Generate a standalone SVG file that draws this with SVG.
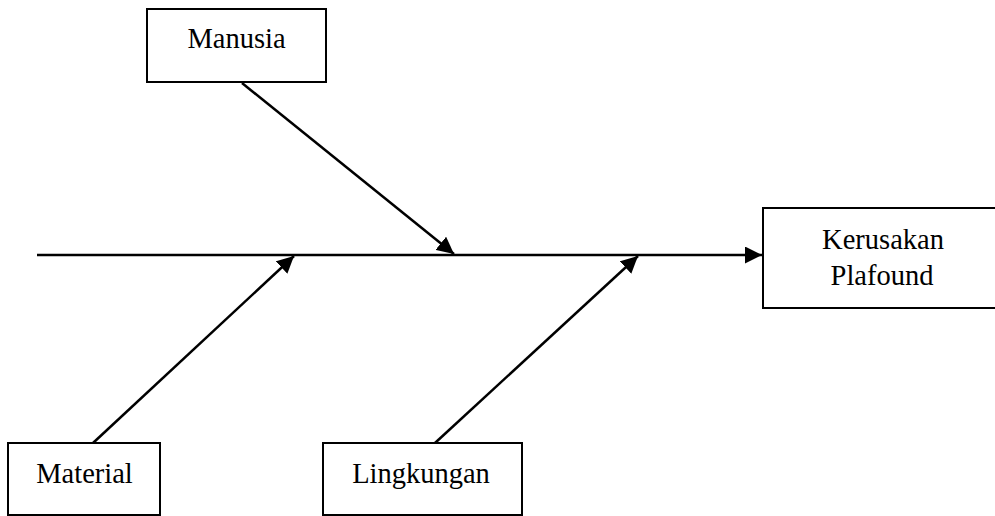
<svg xmlns="http://www.w3.org/2000/svg" width="995" height="516" viewBox="0 0 995 516">
  <style>
    .box { fill: #ffffff; stroke: #000000; stroke-width: 2; }
    .lbl { font-family: "Liberation Serif", "Times New Roman", serif; font-size: 28.5px; fill: #000000; text-anchor: middle; }
    .conn { stroke: #000000; stroke-width: 2.5; fill: none; marker-end: url(#arr); }
  </style>
  <defs>
    <marker id="arr" markerUnits="userSpaceOnUse" markerWidth="18" markerHeight="17" refX="17" refY="8.5" orient="auto">
      <path d="M0,0 L17,8.5 L0,17 Z" fill="#000000"/>
    </marker>
  </defs>
  <rect width="995" height="516" fill="#ffffff"/>
  <g id="connectors">
    <line class="conn" x1="37" y1="255" x2="762" y2="255"/>
    <line class="conn" x1="242" y1="83" x2="454" y2="254"/>
    <line class="conn" x1="93" y1="443" x2="294" y2="256"/>
    <line class="conn" x1="435" y1="443" x2="638" y2="256"/>
  </g>
  <g id="node-manusia">
    <rect class="box" x="147" y="9" width="179" height="73"/>
    <text class="lbl" x="236.5" y="48">Manusia</text>
  </g>
  <g id="node-kerusakan">
    <rect class="box" x="763" y="208" width="250" height="100"/>
    <text class="lbl" x="883" y="249">Kerusakan</text>
    <text class="lbl" x="882" y="285">Plafound</text>
  </g>
  <g id="node-material">
    <rect class="box" x="8" y="443" width="152" height="72"/>
    <text class="lbl" x="84.5" y="483">Material</text>
  </g>
  <g id="node-lingkungan">
    <rect class="box" x="323" y="443" width="199" height="72"/>
    <text class="lbl" x="421" y="483">Lingkungan</text>
  </g>
</svg>
